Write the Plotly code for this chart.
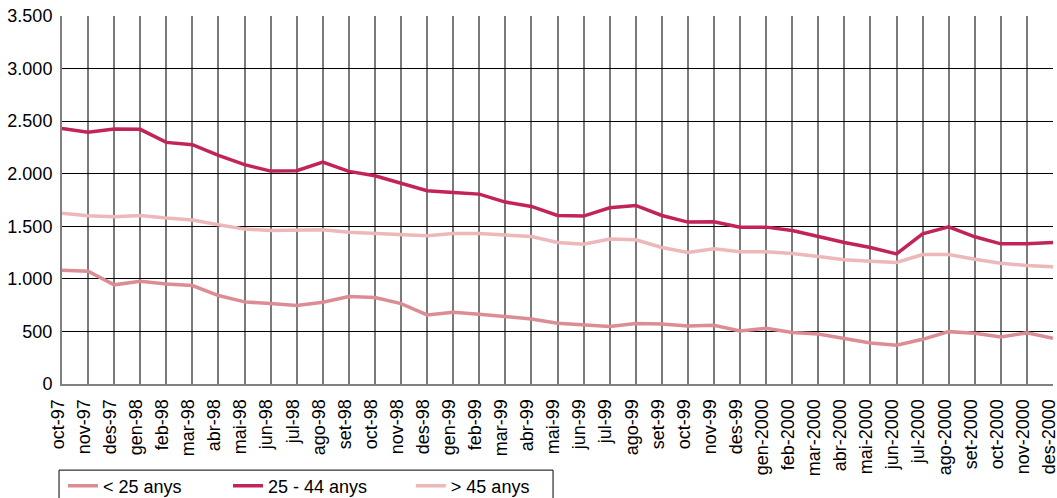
import plotly.graph_objects as go

months = ["oct-97", "nov-97", "des-97",
          "gen-98", "feb-98", "mar-98", "abr-98", "mai-98", "jun-98", "jul-98", "ago-98", "set-98", "oct-98", "nov-98", "des-98",
          "gen-99", "feb-99", "mar-99", "abr-99", "mai-99", "jun-99", "jul-99", "ago-99", "set-99", "oct-99", "nov-99", "des-99",
          "gen-2000", "feb-2000", "mar-2000", "abr-2000", "mai-2000", "jun-2000", "jul-2000", "ago-2000", "set-2000", "oct-2000", "nov-2000", "des-2000"]

menors_25 = [1083, 1073, 943,
             978, 952, 936, 841, 781, 765, 746, 778, 832, 822, 765, 657,
             683, 663, 641, 619, 578, 562, 546, 575, 571, 552, 559, 505,
             530, 489, 476, 432, 390, 368, 425, 498, 483, 448, 486, 435]

de_25_44 = [2430, 2394, 2425,
            2422, 2298, 2276, 2174, 2086, 2025, 2029, 2111, 2022, 1981, 1911, 1838,
            1822, 1806, 1730, 1689, 1603, 1597, 1676, 1698, 1603, 1540, 1543, 1492,
            1492, 1460, 1403, 1346, 1298, 1238, 1429, 1495, 1400, 1333, 1333, 1346]

majors_45 = [1625, 1600, 1590,
             1603, 1578, 1559, 1514, 1473, 1460, 1467, 1467, 1444, 1435, 1422, 1410,
             1432, 1432, 1416, 1403, 1346, 1330, 1378, 1371, 1298, 1251, 1286, 1257,
             1257, 1241, 1213, 1181, 1168, 1156, 1232, 1232, 1187, 1149, 1127, 1114]

series = [("< 25 anys", menors_25, "#DC8C95", "legend"),
          ("25 - 44 anys", de_25_44, "#C2245A", "legend2"),
          ("> 45 anys", majors_45, "#ECB8BA", "legend3")]

fig = go.Figure()
for name, vals, col, lg in series:
    fig.add_trace(go.Scatter(x=months, y=vals, name=name, mode="lines",
                             line=dict(color=col, width=3.5), legend=lg))

font = "Liberation Sans, Arial, sans-serif"
FS = 18
leg_common = dict(orientation="h", xanchor="left", y=-0.277, yanchor="middle",
                  borderwidth=0, bgcolor="rgba(0,0,0,0)", font=dict(size=FS))

fig.update_layout(
    width=1057, height=498,
    margin=dict(l=62, r=4, t=16, b=114, autoexpand=False),
    paper_bgcolor="white", plot_bgcolor="white",
    separators=",.",
    font=dict(family=font, size=FS, color="black"),
    showlegend=True,
    legend=dict(x=0.001, **leg_common),
    legend2=dict(x=0.1675, **leg_common),
    legend3=dict(x=0.352, **leg_common),
    xaxis=dict(type="category", range=[0, len(months) - 1], tickangle=-90,
               showgrid=True, gridcolor="#7a7a7a", gridwidth=1.5,
               showline=True, linecolor="#808080", linewidth=2,
               ticks="", tickfont=dict(size=FS), automargin=False,
               ticklabelshift=-4, ticklabelstandoff=6),
    yaxis=dict(range=[0, 3500], dtick=500, tickformat=",d",
               showgrid=True, gridcolor="black", gridwidth=1,
               zeroline=False, showline=True, linecolor="#808080", linewidth=2,
               ticks="", tickfont=dict(size=FS), automargin=False,
               ticklabelstandoff=4),
    shapes=[dict(type="rect", xref="paper", yref="paper",
                 x0=-0.003, x1=0.4955, y0=-0.234, y1=-0.32,
                 line=dict(color="black", width=1), fillcolor="rgba(0,0,0,0)")],
)

fig.write_html("out.html", config={"displayModeBar": False},
               post_script="document.body.style.margin='0';document.body.style.overflow='hidden';")
